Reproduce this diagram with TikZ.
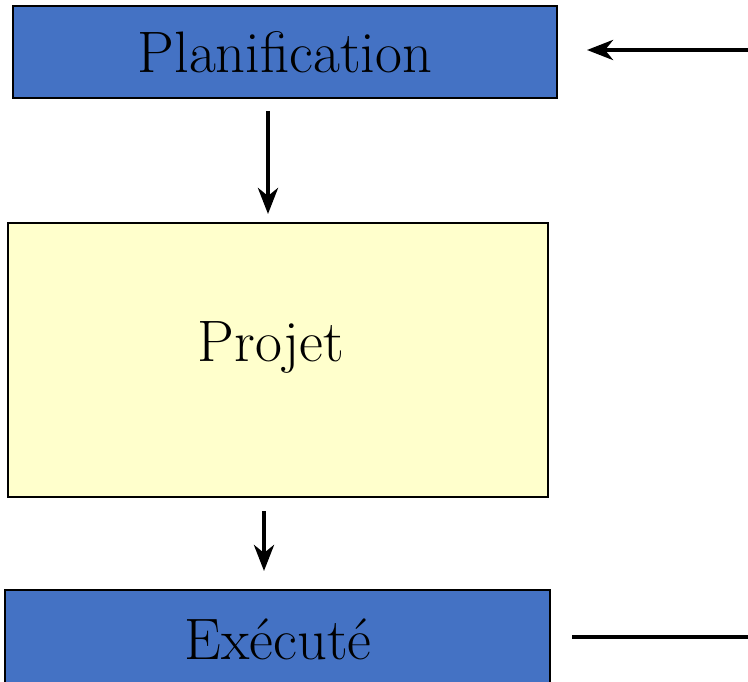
\documentclass[tikz,border=0pt]{standalone}
\usetikzlibrary{arrows.meta}
\definecolor{boxblue}{HTML}{4472C4}
\definecolor{boxyellow}{HTML}{FFFFCC}
\tikzset{
  box/.style={draw=black, line width=2.4pt, inner sep=0pt},
  lbl/.style={font=\fontsize{58.5}{62}\selectfont},
  flow/.style={line width=4.5pt, -{Stealth[length=26pt, width=20pt, inset=8pt]}},
  plain/.style={line width=4.5pt}
}
\begin{document}
\begin{tikzpicture}[x=1pt, y=-1pt]
  \useasboundingbox (0,0) rectangle (748,682);
  \fill[white] (0,0) rectangle (748,682);
  % stage boxes
  \node[box, fill=boxblue, minimum width=544pt, minimum height=92pt] (plan) at (285,52) {};
  \node[lbl] (planT) at (285,52) {Planification};
  \node[box, fill=boxyellow, minimum width=540pt, minimum height=274pt] (proj) at (278,360) {};
  \node[lbl] (projT) at (271,347) {Projet};
  \node[box, fill=boxblue, minimum width=545pt, minimum height=100pt] (exec) at (277.5,640) {};
  \node[lbl] (execT) at (278,639) {Exécuté};
  % connector end points
  \coordinate (inR) at (748,50);
  \coordinate (outR) at (748,637);
  \coordinate (a1s) at (268,111);
  \coordinate (a1e) at (268,214);
  \coordinate (a2s) at (264,511);
  \coordinate (a2e) at (264,571);
  \coordinate (inTip) at (587,50);
  \coordinate (outS) at (572,637);
  % connectors
  \draw[flow] (inR) -- (inTip);
  \draw[flow] (a1s) -- (a1e);
  \draw[flow] (a2s) -- (a2e);
  \draw[plain] (outS) -- (outR);
\end{tikzpicture}
\end{document}
